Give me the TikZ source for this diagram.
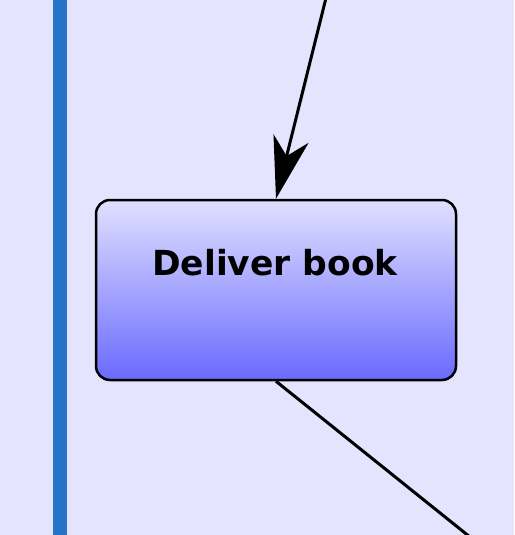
\documentclass[tikz,border=0pt]{standalone}
\usepackage{fontspec}
\setmainfont{DejaVu Sans}
\usetikzlibrary{arrows.meta,shadings}
\definecolor{bgc}{RGB}{228,228,255}
\definecolor{barc}{RGB}{35,116,198}
\definecolor{boxtop}{RGB}{224,224,255}
\definecolor{boxbot}{RGB}{106,106,255}
\tikzset{
  actbox/.style={draw=black, line width=2.5pt, rounded corners=14pt,
    top color=boxtop, bottom color=boxbot, minimum width=360pt, minimum height=180pt, inner sep=0pt},
  lbl/.style={font=\fontsize{34.5}{40}\selectfont\bfseries, inner sep=0pt, anchor=base},
  conn/.style={line width=3pt, black},
}
\begin{document}
\begin{tikzpicture}[x=1pt,y=-1pt]
\useasboundingbox (0,0) rectangle (514,535);
\clip (0,0) rectangle (514,535);
\fill[bgc] (0,0) rectangle (514,535);
\fill[barc] (53,-5) rectangle (67,540);
\node[actbox] (box) at (276,290) {};
\node[lbl] (txt) at (275,275) {Deliver book};
\coordinate (top) at (326,-2);
\coordinate (bot) at (470,537);
\draw[conn, -{Stealth[length=62pt, width=36pt, inset=18pt]}] (top) -- (box.north);
\draw[conn] (box.south) -- (bot);
\end{tikzpicture}
\end{document}
